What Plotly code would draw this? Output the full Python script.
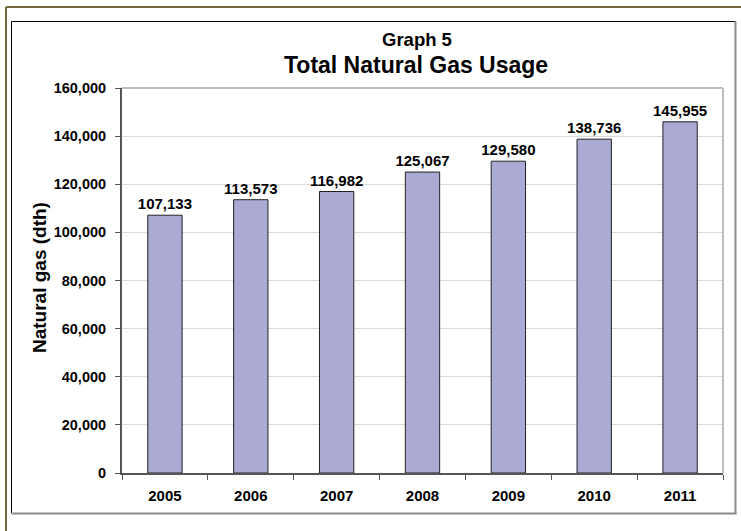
import plotly.graph_objects as go

years = ["2005", "2006", "2007", "2008", "2009", "2010", "2011"]
usage = [107133, 113573, 116982, 125067, 129580, 138736, 145955]

W, H = 741, 531
L, R, T, B = 122, 18, 88, 58
PW, PH = W - L - R, H - T - B

FONT = "Liberation Sans, Arial, sans-serif"
BAR_COLOR = "#AAAAD4"


def px(x):
    return (x - L) / PW


def py(y):
    return (H - B - y) / PH


fig = go.Figure()
fig.add_trace(go.Bar(
    x=years,
    y=usage,
    marker=dict(color=BAR_COLOR, line=dict(color="#222222", width=1)),
    text=[f"{v:,}" for v in usage],
    texttemplate="<b>%{text}</b>",
    textposition="outside",
    constraintext="none",
    textfont=dict(family=FONT, size=15, color="#000000"),
    cliponaxis=False,
    hoverinfo="skip",
))

shapes = [
    # outer olive frame (top and left edges)
    dict(type="line", xref="paper", yref="paper", x0=px(6), x1=px(W + 5), y0=py(7), y1=py(7),
         line=dict(color="#74643A", width=2)),
    dict(type="line", xref="paper", yref="paper", x0=px(6), x1=px(6), y0=py(7), y1=py(H + 5),
         line=dict(color="#74643A", width=2)),
    # chart frame
    dict(type="line", xref="paper", yref="paper", x0=px(11.5), x1=px(735.5), y0=py(21.5), y1=py(21.5),
         line=dict(color="#000000", width=1)),
    dict(type="line", xref="paper", yref="paper", x0=px(11.5), x1=px(11.5), y0=py(21.5), y1=py(513),
         line=dict(color="#000000", width=1)),
    dict(type="line", xref="paper", yref="paper", x0=px(735.5), x1=px(735.5), y0=py(21.5), y1=py(513.5),
         line=dict(color="#8A8A8A", width=2)),
    dict(type="line", xref="paper", yref="paper", x0=px(11.5), x1=px(736.5), y0=py(513.5), y1=py(513.5),
         line=dict(color="#8A8A8A", width=2)),
    # plot area top and right border
    dict(type="line", xref="paper", yref="paper", x0=0, x1=1, y0=1, y1=1,
         line=dict(color="#BDBDBD", width=2)),
    dict(type="line", xref="paper", yref="paper", x0=1, x1=1, y0=0, y1=1,
         line=dict(color="#BDBDBD", width=2)),
]

annotations = [
    dict(text="<b>Graph 5</b>", xref="paper", yref="paper", x=px(417), y=py(40),
         showarrow=False, xanchor="center", yanchor="middle",
         font=dict(family=FONT, size=18.5, color="#000000")),
    dict(text="<b>Total Natural Gas Usage</b>", xref="paper", yref="paper", x=px(416), y=py(65),
         showarrow=False, xanchor="center", yanchor="middle",
         font=dict(family=FONT, size=23, color="#000000")),
    dict(text="<b>Natural gas (dth)</b>", xref="paper", yref="paper", x=px(39), y=py(278),
         showarrow=False, xanchor="center", yanchor="middle", textangle=-90,
         font=dict(family=FONT, size=19, color="#000000")),
]

fig.update_layout(
    width=W,
    height=H,
    margin=dict(l=L, r=R, t=T, b=B),
    paper_bgcolor="#FFFFFF",
    plot_bgcolor="#FFFFFF",
    showlegend=False,
    bargap=0.6,
    shapes=shapes,
    annotations=annotations,
    font=dict(family=FONT, color="#000000"),
)

fig.update_xaxes(
    type="category",
    tickson="boundaries",
    ticks="outside",
    ticklen=5,
    tickcolor="#555555",
    showline=True,
    linecolor="#555555",
    linewidth=2,
    showgrid=False,
    tickfont=dict(family=FONT, size=15, color="#000000"),
    ticklabelstandoff=8,
    tickprefix="<b>",
    ticksuffix="</b>",
)

fig.update_yaxes(
    range=[0, 160000],
    dtick=20000,
    tickformat=",d",
    ticks="outside",
    ticklen=5,
    tickcolor="#555555",
    showline=True,
    linecolor="#555555",
    linewidth=2,
    showgrid=True,
    gridcolor="#D9D9D9",
    gridwidth=1,
    zeroline=False,
    tickfont=dict(family=FONT, size=14.5, color="#000000"),
    ticklabelstandoff=6,
    tickprefix="<b>",
    ticksuffix="</b>",
)

fig.write_html("out.html")
